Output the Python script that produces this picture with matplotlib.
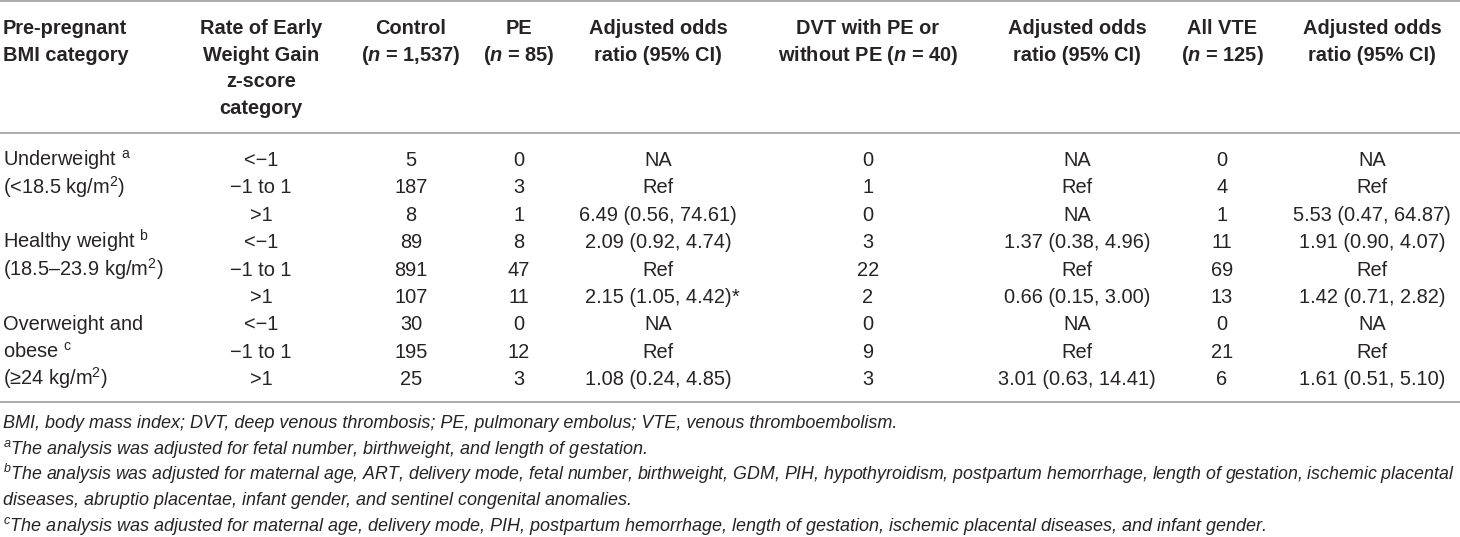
import matplotlib
matplotlib.use("Agg")
import matplotlib.pyplot as plt

plt.rcParams['font.family'] = ['Liberation Sans', 'DejaVu Sans']
plt.rcParams['mathtext.fontset'] = 'custom'
plt.rcParams['mathtext.rm'] = 'Liberation Sans'
plt.rcParams['mathtext.it'] = 'Liberation Sans:italic:bold'
plt.rcParams['mathtext.sf'] = 'Liberation Sans:italic'

# header of each column (one entry per line)
headers = [
    ["Pre-pregnant", "BMI category"],
    ["Rate of Early", "Weight Gain", "z-score", "category"],
    ["Control", r"($\mathit{n}$ = 1,537)"],
    ["PE", r"($\mathit{n}$ = 85)"],
    ["Adjusted odds", "ratio (95% CI)"],
    ["DVT with PE or", r"without PE ($\mathit{n}$ = 40)"],
    ["Adjusted odds", "ratio (95% CI)"],
    ["All VTE", r"($\mathit{n}$ = 125)"],
    ["Adjusted odds", "ratio (95% CI)"],
]

bmi_labels = [r"Underweight $^{\mathrm{a}}$", r"(<18.5 kg/m$^{2}$)", "",
              r"Healthy weight $^{\mathrm{b}}$", r"(18.5–23.9 kg/m$^{2}$)", "",
              "Overweight and", r"obese $^{\mathrm{c}}$", r"(≥24 kg/m$^{2}$)"]
zscore = ["<−1", "−1 to 1", ">1"] * 3
control = [5, 187, 8, 89, 891, 107, 30, 195, 25]
pe = [0, 3, 1, 8, 47, 11, 0, 12, 3]
pe_or = ["NA", "Ref", "6.49 (0.56, 74.61)", "2.09 (0.92, 4.74)", "Ref",
         "2.15 (1.05, 4.42)", "NA", "Ref", "1.08 (0.24, 4.85)"]
pe_sig = [False, False, False, False, False, True, False, False, False]
dvt = [0, 1, 0, 3, 22, 2, 0, 9, 3]
dvt_or = ["NA", "Ref", "NA", "1.37 (0.38, 4.96)", "Ref", "0.66 (0.15, 3.00)",
          "NA", "Ref", "3.01 (0.63, 14.41)"]
vte = [0, 4, 1, 11, 69, 13, 0, 21, 6]
vte_or = ["NA", "Ref", "5.53 (0.47, 64.87)", "1.91 (0.90, 4.07)", "Ref",
          "1.42 (0.71, 2.82)", "NA", "Ref", "1.61 (0.51, 5.10)"]

footnotes = [
    "BMI, body mass index; DVT, deep venous thrombosis; PE, pulmonary embolus; VTE, venous thromboembolism.",
    r"$^{\mathsf{a}}$The analysis was adjusted for fetal number, birthweight, and length of gestation.",
    r"$^{\mathsf{b}}$The analysis was adjusted for maternal age, ART, delivery mode, fetal number, birthweight, GDM, PIH, hypothyroidism, postpartum hemorrhage, length of gestation, ischemic placental",
    "diseases, abruptio placentae, infant gender, and sentinel congenital anomalies.",
    r"$^{\mathsf{c}}$The analysis was adjusted for maternal age, delivery mode, PIH, postpartum hemorrhage, length of gestation, ischemic placental diseases, and infant gender.",
]

W, H = 1460, 537
col_x = [3, 261, 411, 519, 658, 868, 1077, 1222, 1372]
col_ha = ['left'] + ['center'] * 8
fs = 14.4
fs_note = 12.95
ink = '#262324'
rule = '#a6a6a6'

fig = plt.figure(figsize=(W / 100, H / 100), dpi=100)
ax = fig.add_axes([0, 0, 1, 1])
ax.set_xlim(0, W)
ax.set_ylim(H, 0)
ax.axis('off')

# rules
for yr in [1, 133, 402]:
    ax.plot([0, W], [yr, yr], color=rule, lw=1.3, solid_capstyle='butt')

# header
for c, lines in enumerate(headers):
    for k, s in enumerate(lines):
        ax.text(col_x[c], 27 + 26.7 * k + 7, s, ha=col_ha[c], va='baseline',
                fontsize=fs, fontweight='bold', color=ink)

# body
columns = [bmi_labels, zscore, control, pe, pe_or, dvt, dvt_or, vte, vte_or]
for i in range(len(control)):
    yb = 159 + 27.4 * i + 7
    for c, col in enumerate(columns):
        t = ax.text(col_x[c], yb, str(col[i]), ha=col_ha[c], va='baseline',
                    fontsize=fs, color=ink)
        if c == 4 and pe_sig[i]:
            ax.annotate('*', xy=(1, 1), xycoords=t, ha='left', va='top',
                        fontsize=fs, color=ink)

# footnotes, long lines squeezed to stay inside the page
fig.canvas.draw()
renderer = fig.canvas.get_renderer()
for k, s in enumerate(footnotes):
    t = ax.text(3, 422 + 25.8 * k + 6, s, ha='left', va='baseline',
                fontsize=fs_note, style='italic', color=ink)
    bb = t.get_window_extent(renderer)
    if bb.x1 > W - 2:
        t.set_fontsize(fs_note * (W - 2 - bb.x0) / bb.width)

fig.savefig('out.png', dpi=100)
